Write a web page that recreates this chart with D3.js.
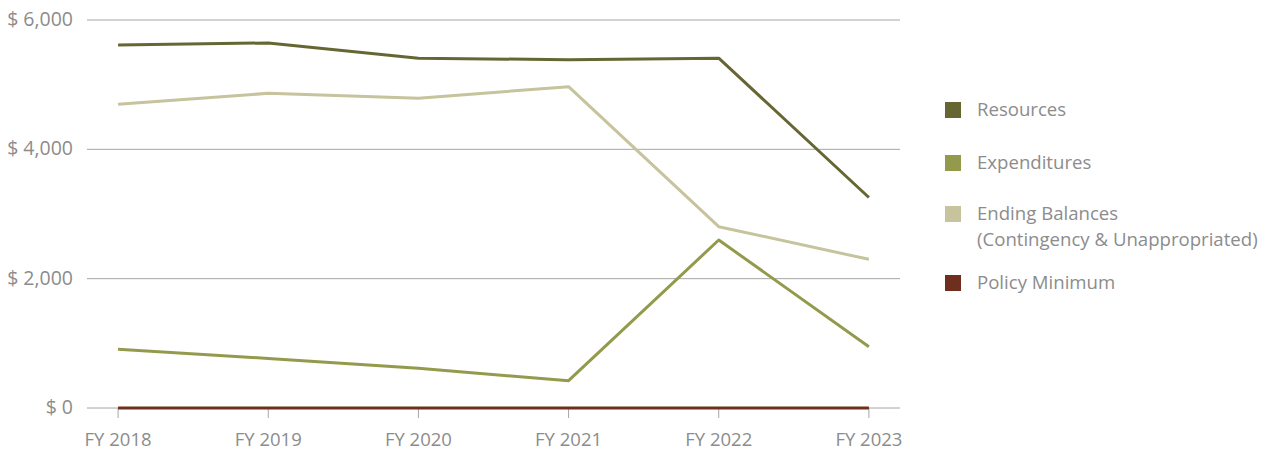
<!DOCTYPE html>
<html lang="en">
<head>
  <meta charset="UTF-8" />
  <script src="https://d3js.org/d3.v7.min.js"></script>
  <style>
    html, body { margin: 0; padding: 0; background: #fff; }
    svg { display: block; font-family: "Open Sans", "Noto Sans", sans-serif; }
  </style>
</head>
<body>
<svg id="chart" width="1268" height="451"></svg>
<script>
// chart data
var years = ["FY 2018", "FY 2019", "FY 2020", "FY 2021", "FY 2022", "FY 2023"];
var resources = [5615, 5645, 5410, 5385, 5410, 3255];
var expenditures = [907, 767, 613, 422, 2598, 948];
var endingBalances = [4696, 4866, 4789, 4969, 2804, 2299];
var policyMinimum = [0, 0, 0, 0, 0, 0];
var yTicks = [0, 2000, 4000, 6000];
var seriesNames = ["Resources", "Expenditures", "Ending Balances|(Contingency & Unappropriated)", "Policy Minimum"];
var seriesColors = ["#666633", "#949a4c", "#c6c39d", "#6e2f1e"];

var seriesData = [resources, expenditures, endingBalances, policyMinimum];

var svg = d3.select("#chart");
// plot area edges (note: "top" is taken by window.top)
var plotLeft = 87, plotRight = 900, plotTop = 20, plotBottom = 408;

var x = d3.scalePoint().domain(years).range([plotLeft, plotRight]).padding(0.207);
var y = d3.scaleLinear().domain([0, 6000]).range([plotBottom, plotTop]);

// gridlines
svg.append("g")
  .selectAll("line")
  .data(yTicks)
  .join("line")
    .attr("x1", plotLeft).attr("x2", plotRight)
    .attr("y1", d => y(d)).attr("y2", d => y(d))
    .attr("stroke", "#a6a6a6")
    .attr("stroke-width", 1);

// y labels
var fmt = d3.format(",");
svg.append("g")
  .selectAll("text")
  .data(yTicks)
  .join("text")
    .attr("x", 73)
    .attr("y", d => y(d) + 6)
    .attr("text-anchor", "end")
    .attr("fill", "#8c8c8c")
    .style("font-size", "19.5px")
    .text(d => "$ " + fmt(d));

// x axis ticks + labels
svg.append("g")
  .selectAll("line")
  .data(years)
  .join("line")
    .attr("x1", d => x(d)).attr("x2", d => x(d))
    .attr("y1", plotBottom).attr("y2", plotBottom + 10)
    .attr("stroke", "#a6a6a6");

svg.append("g")
  .selectAll("text")
  .data(years)
  .join("text")
    .attr("x", d => x(d))
    .attr("y", 446)
    .attr("text-anchor", "middle")
    .attr("fill", "#8c8c8c")
    .style("font-size", "18.5px")
    .text(d => d);

// lines
var line = d3.line()
  .x((d, i) => x(years[i]))
  .y(d => y(d));

svg.append("g")
  .selectAll("path")
  .data(seriesData)
  .join("path")
    .attr("fill", "none")
    .attr("stroke", (d, i) => seriesColors[i])
    .attr("stroke-width", 3)
    .attr("stroke-linejoin", "round")
    .attr("d", line);

// legend
var legendY = [110, 163, 214, 283];
var legend = svg.append("g")
  .selectAll("g")
  .data(seriesNames)
  .join("g")
    .attr("transform", (d, i) => "translate(945," + legendY[i] + ")");

legend.append("rect")
  .attr("x", 0).attr("y", -8)
  .attr("width", 16).attr("height", 16)
  .attr("fill", (d, i) => seriesColors[i]);

legend.append("text")
  .attr("fill", "#8c8c8c")
  .style("font-size", "18.6px")
  .selectAll("tspan")
  .data(d => d.split("|"))
  .join("tspan")
    .attr("x", 32)
    .attr("y", (d, i) => 6 + i * 26)
    .text(d => d);
</script>
</body>
</html>
